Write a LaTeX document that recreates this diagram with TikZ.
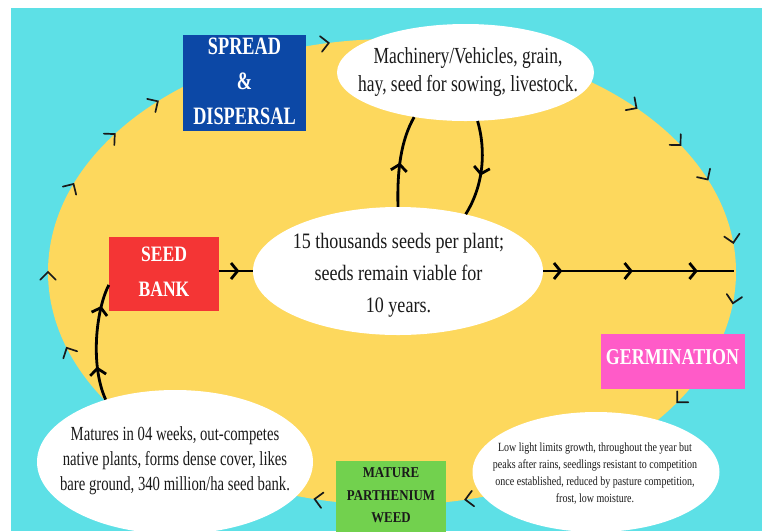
\documentclass[tikz,border=0pt]{standalone}
\usepackage{fontspec}
\setmainfont{Liberation Serif}
\newfontfamily\fMach[FakeStretch=0.76]{Liberation Serif}
\newfontfamily\fSeeds[FakeStretch=0.82]{Liberation Serif}
\newfontfamily\fLow[FakeStretch=0.80]{Liberation Serif}
\newfontfamily\fMat[FakeStretch=0.735]{Liberation Serif}
\newfontfamily\fSpread[FakeStretch=0.73]{Liberation Serif}
\newfontfamily\fBank[FakeStretch=0.80]{Liberation Serif}
\newfontfamily\fGerm[FakeStretch=0.79]{Liberation Serif}
\newfontfamily\fMature[FakeStretch=0.86]{Liberation Serif}
\usetikzlibrary{shapes.geometric,arrows.meta,decorations.markings}
\definecolor{cyanbg}{HTML}{5DE0E6}
\definecolor{yel}{HTML}{FDD85D}
\definecolor{blueb}{HTML}{0C48A6}
\definecolor{redb}{HTML}{F43535}
\definecolor{pinkb}{HTML}{FF5BC8}
\definecolor{greenb}{HTML}{72D14E}
\definecolor{ink}{HTML}{1A1A1A}
\tikzset{
  chev/.tip={Straight Barb[length=6.5pt,width=16pt]},
  bub/.style={ellipse, fill=white, inner sep=0pt},
  txt/.style={inner sep=0pt, align=center, text=ink},
  stagebox/.style={rectangle, inner sep=0pt},
  conn/.style={line width=2.8pt, draw=black, postaction={decorate}},
  rimchev/.style={line width=1.7pt, line cap=round, draw=black!90},
}
\begin{document}
\begin{tikzpicture}[x=1pt,y=-1pt]
\useasboundingbox (0,0) rectangle (762,531);
\clip (0,0) rectangle (762,531);
\fill[white] (0,0) rectangle (762,531);
\fill[cyanbg] (11,8) rectangle (762,531);
\fill[yel] (392,272) ellipse [x radius=344pt, y radius=233pt];

% bubbles
\node[bub, minimum width=257pt, minimum height=97pt] (mach) at (465.5,72.5) {};
\node[bub, minimum width=290pt, minimum height=128pt] (seeds) at (398,271) {};
\node[bub, minimum width=247pt, minimum height=120pt] (low) at (596,472) {};
\node[bub, minimum width=276pt, minimum height=144pt] (mat) at (175,462) {};

\node[txt, font=\fMach\fontsize{23}{28}\selectfont] (machT) at (468,71.5)
  {Machinery/Vehicles, grain,\\hay, seed for sowing, livestock.};
\node[txt, font=\fSeeds\fontsize{22}{32}\selectfont] (seedsT) at (398.5,275)
  {15 thousands seeds per plant;\\seeds remain viable for\\10 years.};
\node[txt, font=\fLow\fontsize{12.5}{17}\selectfont] (lowT) at (595,473.5)
  {Low light limits growth, throughout the year but\\peaks after rains, seedlings resistant to competition\\once established, reduced by pasture competition,\\frost, low moisture.};
\node[txt, font=\fMat\fontsize{20}{25}\selectfont] (matT) at (175,460.5)
  {Matures in 04 weeks, out-competes\\native plants, forms dense cover, likes\\bare ground, 340 million/ha seed bank.};

% stage boxes
\node[stagebox, fill=blueb, minimum width=123pt, minimum height=96pt] (spread) at (244.5,83) {};
\node[stagebox, fill=redb, minimum width=110pt, minimum height=74pt] (bank) at (164,274) {};
\node[stagebox, fill=pinkb, minimum width=144pt, minimum height=55pt] (germ) at (673,361.5) {};
\node[stagebox, fill=greenb, minimum width=110pt, minimum height=74pt] (mature) at (391,498) {};

\node[txt, text=white, font=\fSpread\bfseries\fontsize{25}{35}\selectfont] (spreadT) at (244.5,81.5)
  {SPREAD\\\&\\DISPERSAL};
\node[txt, text=white, font=\fBank\bfseries\fontsize{22}{35}\selectfont] (bankT) at (164,272)
  {SEED\\BANK};
\node[txt, text=white, font=\fGerm\bfseries\fontsize{22.7}{28}\selectfont] (germT) at (672.5,357.5)
  {GERMINATION};
\node[txt, text=ink, font=\fMature\bfseries\fontsize{15}{22.5}\selectfont] (matureT) at (391,495.5)
  {MATURE\\PARTHENIUM\\WEED};

% chevrons along the cycle
\foreach \t in {157.8,143.7,132.9,100.6,180,199,44.7,33,23.4,7.2,-7.7,-34,-77.7,-103} {
  \pgfmathsetmacro\px{392+344*cos(\t)}
  \pgfmathsetmacro\py{272-233*sin(\t)}
  \pgfmathsetmacro\ph{atan2(233*cos(\t),344*sin(\t))}
  \draw[rimchev] ({\px+11*cos(\ph+135)},{\py+11*sin(\ph+135)}) -- (\px,\py)
     -- ({\px+11*cos(\ph-135)},{\py+11*sin(\ph-135)});
}

% connectors
\coordinate (rim) at (734,271);
\draw[conn, decoration={markings, mark=at position 0.6 with {\arrow{chev}}}]
  (seeds.west -| bank.east) -- (seeds.west);
\draw[conn, decoration={markings,
   mark=at position 0.1 with {\arrow{chev}},
   mark=at position 0.47 with {\arrow{chev}},
   mark=at position 0.81 with {\arrow{chev}}}]
  (seeds.east) -- (rim);
\draw[conn, decoration={markings, mark=at position 0.48 with {\arrow{chev}}}]
  (seeds.north) .. controls (397,170) and (401,140) .. (mach.221);
\draw[conn, decoration={markings, mark=at position 0.57 with {\arrow{chev}}}]
  (mach.284) .. controls (486,150) and (484,185) .. (seeds.40);
\draw[conn, decoration={markings,
   mark=at position 0.29 with {\arrow{chev}},
   mark=at position 0.81 with {\arrow{chev}}}]
  (mat.138) .. controls (90,365) and (96,310) .. ([yshift=-11pt]bank.west);
\end{tikzpicture}
\end{document}
